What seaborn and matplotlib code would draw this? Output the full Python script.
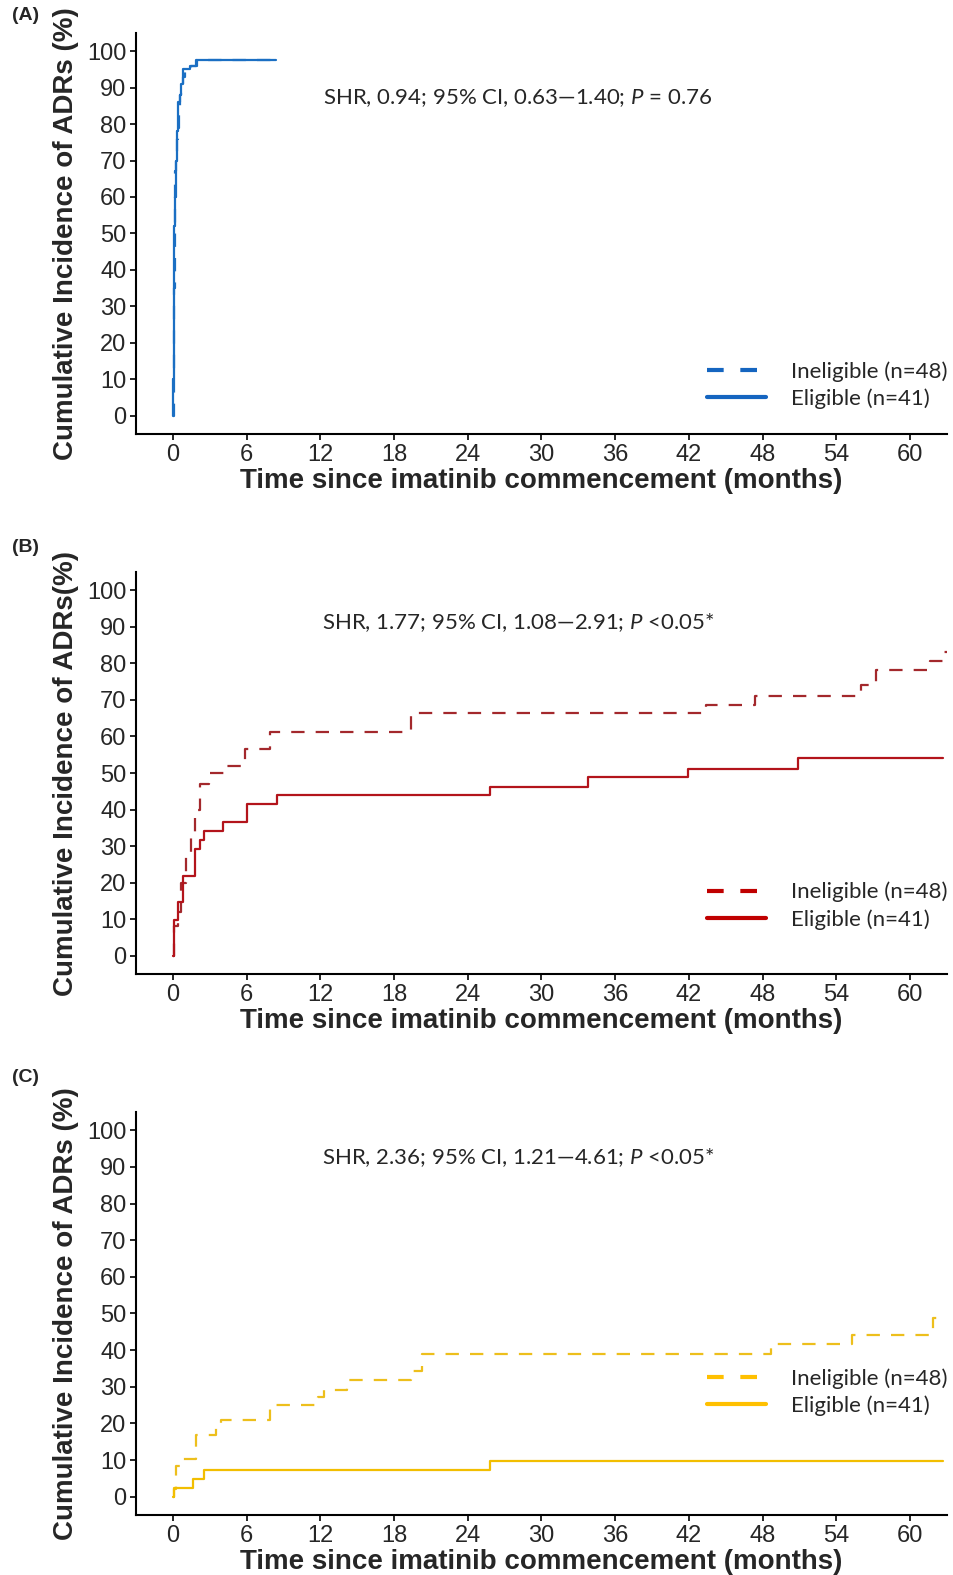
import numpy as np
import pandas as pd
import seaborn as sns
import matplotlib.pyplot as plt
from matplotlib.lines import Line2D

# group labels
groups = ['Ineligible (n=48)', 'Eligible (n=41)']

# panel A (months, cumulative incidence %)
a_inel_t = [0, 0.05, 0.1, 0.15, 0.2, 0.28, 0.35, 0.42, 0.5, 0.6, 0.7, 0.85, 1.0, 1.5, 2.0, 8.4]
a_inel_v = [0, 15, 35, 55, 67, 71, 76, 79, 84, 88, 90, 93, 95, 96, 97.5, 97.5]
a_elig_t = [0, 0.02, 0.05, 0.08, 0.12, 0.18, 0.25, 0.3, 0.38, 0.45, 0.55, 0.65, 0.8, 1.4, 1.9, 8.4]
a_elig_v = [0, 10, 25, 40, 52, 60, 70, 78, 83, 86, 88, 91, 95, 96, 97.5, 97.5]

# panel B
b_inel_t = [0, 0.1, 0.4, 0.7, 1.1, 1.5, 1.8, 2.2, 2.9, 4.3, 5.9, 7.9, 19.4, 43.4, 47.4, 56.0, 57.2, 61.6, 62.8, 63.0]
b_inel_v = [0, 8, 12, 20, 27, 33, 40, 47, 50, 52, 56.7, 61.3, 66.3, 68.7, 71.0, 74.0, 78.3, 80.7, 83.0, 83.0]
b_elig_t = [0, 0.05, 0.4, 0.8, 1.8, 2.2, 2.5, 4.1, 6.0, 8.5, 25.8, 33.8, 41.9, 50.9, 62.7]
b_elig_v = [0, 9.8, 14.6, 21.9, 29.3, 31.7, 34.1, 36.6, 41.5, 43.9, 46.3, 48.8, 51.2, 54.2, 54.2]

# panel C
c_inel_t = [0, 0.05, 0.25, 0.6, 1.9, 3.5, 3.95, 7.9, 11.8, 12.3, 14.2, 19.4, 20.3, 48.7, 55.3, 61.9, 62.3]
c_inel_v = [0, 2.1, 8.3, 10.4, 16.7, 18.8, 20.9, 25.0, 27.1, 29.2, 31.9, 34.4, 39.0, 41.7, 44.0, 48.8, 48.8]
c_elig_t = [0, 0.05, 1.65, 2.5, 25.8, 62.7]
c_elig_v = [0, 2.4, 4.9, 7.3, 9.8, 9.8]

x_ticks = list(range(0, 61, 6))
y_ticks = list(range(0, 101, 10))

sns.set_style('ticks')
plt.rcParams['font.family'] = ['Liberation Sans', 'DejaVu Sans']
plt.rcParams['mathtext.fontset'] = 'custom'
plt.rcParams['mathtext.rm'] = 'Lato'
plt.rcParams['mathtext.it'] = 'Lato:italic'

fig = plt.figure(figsize=(9.54, 15.75), dpi=100)

panels = [
    dict(tag='(A)', t=(a_inel_t, a_elig_t), v=(a_inel_v, a_elig_v),
         line_cols=('#1B6FC3', '#1B6FC3'), leg_col='#1565C0',
         ylabel='Cumulative Incidence of ADRs (%)',
         note='SHR, 0.94; 95% CI, 0.63\u20141.40; $P$ = 0.76',
         rect=[0.1426, 0.7245, 0.850, 0.2546], note_y=0.838, leg_y=0.122, tag_y=15),
    dict(tag='(B)', t=(b_inel_t, b_elig_t), v=(b_inel_v, b_elig_v),
         line_cols=('#A3282C', '#B3141B'), leg_col='#C00000',
         ylabel='Cumulative Incidence of ADRs(%)',
         note='SHR, 1.77; 95% CI, 1.08\u20142.91; $P$ <0.05*',
         rect=[0.1426, 0.3816, 0.850, 0.2552], note_y=0.873, leg_y=0.170, tag_y=548),
    dict(tag='(C)', t=(c_inel_t, c_elig_t), v=(c_inel_v, c_elig_v),
         line_cols=('#EDBF1C', '#F2BE00'), leg_col='#FFC000',
         ylabel='Cumulative Incidence of ADRs (%)',
         note='SHR, 2.36; 95% CI, 1.21\u20144.61; $P$ <0.05*',
         rect=[0.1426, 0.0381, 0.850, 0.2559], note_y=0.886, leg_y=0.305, tag_y=1078),
]

for p in panels:
    ax = fig.add_axes(p['rect'])
    df = pd.concat([
        pd.DataFrame({'time': p['t'][i], 'inc': p['v'][i], 'group': groups[i]})
        for i in range(2)
    ])
    sns.lineplot(data=df, x='time', y='inc', hue='group', style='group',
                 palette=dict(zip(groups, p['line_cols'])),
                 dashes={groups[0]: (6, 5), groups[1]: ''},
                 estimator=None, drawstyle='steps-post', linewidth=1.6,
                 legend=False, ax=ax)

    ax.set_xlim(-3, 63)
    ax.set_ylim(-5, 105)
    ax.set_xticks(x_ticks)
    ax.set_yticks(y_ticks)
    sns.despine(ax=ax)
    for s in ['left', 'bottom']:
        ax.spines[s].set_linewidth(1.5)
        ax.spines[s].set_color('black')
    ax.tick_params(axis='both', labelsize=17, length=4, width=1.2, color='black', pad=3)

    ax.set_xlabel('Time since imatinib commencement (months)', fontsize=20,
                  fontweight='bold', labelpad=2)
    ax.set_ylabel(p['ylabel'], fontsize=20, fontweight='bold')
    ax.yaxis.set_label_coords(-0.07, 0.5)

    # SHR note
    ax.text(0.471, p['note_y'], p['note'], transform=ax.transAxes, ha='center',
            va='center', fontsize=16, family='Lato')

    handles = [Line2D([0], [0], color=p['leg_col'], lw=3, dashes=(4, 4)),
               Line2D([0], [0], color=p['leg_col'], lw=3)]
    ax.legend(handles, groups, loc='center left', bbox_to_anchor=(0.704, p['leg_y']),
              frameon=False, prop={'family': 'Lato', 'size': 16},
              handlelength=2.65, handletextpad=1.15, labelspacing=0.3,
              borderpad=0, borderaxespad=0)

    fig.text(12 / 954, 1 - p['tag_y'] / 1575, p['tag'], fontsize=14,
             fontweight='bold', va='center', ha='left')

fig.savefig('out.png', dpi=100)
